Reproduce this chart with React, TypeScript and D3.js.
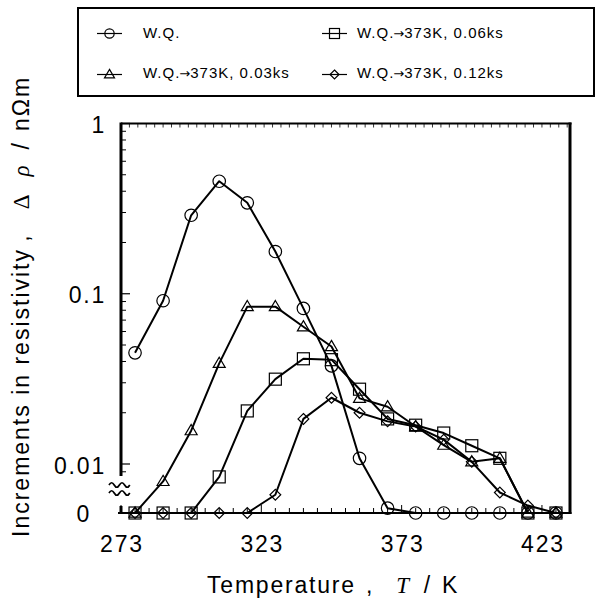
import React, { useRef, useEffect } from "react";
import * as d3 from "d3";

const WIDTH = 596;
const HEIGHT = 599;
const PLOT = { left: 121, right: 570, top: 123.5, bottom: 513 };
const SANS = "'Liberation Sans', Arial, Helvetica, sans-serif";
const SERIF = "'Liberation Serif', 'DejaVu Serif', serif";

// temperatures (K) of the isochronal steps
const temps = [278, 288, 298, 308, 318, 328, 338, 348, 358, 368, 378, 388, 398, 408, 418, 428];

// increments in resistivity (nΩm), 0 = below the break
const wq = [0.045, 0.091, 0.289, 0.458, 0.342, 0.177, 0.082, 0.0377, 0.0108, 0.0055, 0, 0, 0, 0, 0, 0];
const wq003 = [0, 0.0079, 0.0157, 0.039, 0.084, 0.084, 0.064, 0.049, 0.0243, 0.0217, 0.0166, 0.0129, 0.0103, 0.0108, 0, 0];
const wq006 = [0, 0, 0, 0.0084, 0.0205, 0.0315, 0.0415, 0.041, 0.0275, 0.0184, 0.0169, 0.0152, 0.0128, 0.0108, 0, 0];
const wq012 = [0, 0, 0, 0, 0, 0.0066, 0.0184, 0.0245, 0.02, 0.0178, 0.0166, 0.0139, 0.0103, 0.0068, 0.0057, 0];

const xTicks = [273, 323, 373, 423];
const yTicks = [1, 0.1, 0.01];
const yTickLabels = ["1", "0.1", "0.01"];

// legend label parts: prefix, arrow, suffix
const series = [
  { label: ["W.Q.", "", ""], values: wq, symbol: "circle" },
  { label: ["W.Q.", "\u2192", "373K, 0.06ks"], values: wq006, symbol: "square" },
  { label: ["W.Q.", "\u2192", "373K, 0.03ks"], values: wq003, symbol: "triangle" },
  { label: ["W.Q.", "\u2192", "373K, 0.12ks"], values: wq012, symbol: "diamond" },
];

type Sel = d3.Selection<SVGGElement, unknown, null, undefined>;

function drawMarker(g: Sel, symbol: string, cx: number, cy: number, s: number) {
  const common = (el: any) =>
    el.attr("fill", "none").attr("stroke", "#000").attr("stroke-width", 1.2);
  if (symbol === "circle") {
    common(g.append("circle").attr("cx", cx).attr("cy", cy).attr("r", s * 0.52));
  } else if (symbol === "square") {
    common(
      g.append("rect")
        .attr("x", cx - s / 2)
        .attr("y", cy - s / 2)
        .attr("width", s)
        .attr("height", s),
    );
  } else if (symbol === "triangle") {
    const h = s * 0.85;
    common(
      g.append("path").attr(
        "d",
        `M${cx},${cy - h * 0.6}L${cx + s / 2},${cy + h * 0.4}L${cx - s / 2},${cy + h * 0.4}Z`,
      ),
    );
  } else {
    const r = s * 0.45;
    common(
      g.append("path").attr(
        "d",
        `M${cx},${cy - r}L${cx + r},${cy}L${cx},${cy + r}L${cx - r},${cy}Z`,
      ),
    );
  }
}

export default function App() {
  const svgRef = useRef<SVGSVGElement>(null);

  useEffect(() => {
    const svg = d3.select(svgRef.current);
    svg.selectAll("*").remove();
    svg.append("rect").attr("width", WIDTH).attr("height", HEIGHT).attr("fill", "#fff");

    const x = d3.scaleLinear().domain([273, 433]).range([PLOT.left, PLOT.right]);
    const yLog = d3.scaleLog().domain([0.01, 1]).range([464, PLOT.top]);
    const y = (v: number) => (v <= 0 ? PLOT.bottom : yLog(v));

    const g = svg.append("g") as unknown as Sel;

    // data lines + markers
    const line = d3
      .line<number>()
      .x((_, i) => x(temps[i]))
      .y((v) => y(v));
    series.forEach((s) => {
      g.append("path")
        .datum(s.values)
        .attr("fill", "none")
        .attr("stroke", "#000")
        .attr("stroke-width", 2)
        .attr("stroke-linejoin", "round")
        .attr("d", line);
      s.values.forEach((v, i) => drawMarker(g, s.symbol, x(temps[i]), y(v), 12));
    });

    // frame
    const frame = g.append("g").attr("stroke", "#000").attr("fill", "none");
    frame.append("line").attr("x1", PLOT.left).attr("x2", PLOT.right + 1.5)
      .attr("y1", PLOT.top).attr("y2", PLOT.top).attr("stroke-width", 2);
    frame.append("line").attr("x1", PLOT.left - 3).attr("x2", PLOT.right + 1.5)
      .attr("y1", PLOT.bottom).attr("y2", PLOT.bottom).attr("stroke-width", 2);
    frame.append("line").attr("x1", PLOT.right).attr("x2", PLOT.right)
      .attr("y1", PLOT.top - 1).attr("y2", PLOT.bottom + 1).attr("stroke-width", 3);
    frame.append("line").attr("x1", PLOT.left).attr("x2", PLOT.left)
      .attr("y1", PLOT.top - 1).attr("y2", 476).attr("stroke-width", 3);
    frame.append("line").attr("x1", PLOT.left).attr("x2", PLOT.left)
      .attr("y1", 506).attr("y2", PLOT.bottom + 1).attr("stroke-width", 3);

    // axis break mark
    ["M109,485 q2.6,-4.5 5.2,0 t5.2,0 t5.2,0 t5.2,0", "M109,493 q2.6,-4.5 5.2,0 t5.2,0 t5.2,0 t5.2,0"].forEach((d) =>
      g.append("path").attr("d", d).attr("fill", "none").attr("stroke", "#000").attr("stroke-width", 1.7),
    );

    // bottom ticks (inward)
    d3.range(273, 434, 5).forEach((t) => {
      const len = (t - 273) % 50 === 0 ? 8 : 5;
      g.append("line").attr("x1", x(t)).attr("x2", x(t))
        .attr("y1", PLOT.bottom).attr("y2", PLOT.bottom - len)
        .attr("stroke", "#000").attr("stroke-width", 1);
    });
    // top ticks
    d3.range(276, 433, 3).forEach((t) => {
      g.append("line").attr("x1", x(t)).attr("x2", x(t))
        .attr("y1", PLOT.top).attr("y2", PLOT.top + 4)
        .attr("stroke", "#000").attr("stroke-width", 0.8);
    });
    // left ticks
    const minor = [0.01, 0.1].flatMap((d) => d3.range(2, 10).map((k) => k * d)).concat([0.009]);
    minor.forEach((v) => {
      g.append("line").attr("x1", PLOT.left).attr("x2", PLOT.left + 5)
        .attr("y1", yLog(v)).attr("y2", yLog(v)).attr("stroke", "#000").attr("stroke-width", 1);
    });
    yTicks.forEach((v) => {
      g.append("line").attr("x1", PLOT.left).attr("x2", PLOT.left + 9)
        .attr("y1", yLog(v)).attr("y2", yLog(v)).attr("stroke", "#000").attr("stroke-width", 1.2);
    });

    // tick labels
    const labels = g.append("g").attr("font-family", SANS).attr("font-size", 23)
      .attr("letter-spacing", 1.8).attr("fill", "#000");
    xTicks.forEach((t) => {
      labels.append("text").attr("x", x(t) + 1).attr("y", 552)
        .attr("text-anchor", "middle").text(String(t));
    });
    yTicks.forEach((v, i) => {
      labels.append("text").attr("x", 106).attr("y", yLog(v) + 9.5)
        .attr("text-anchor", "end").text(yTickLabels[i]);
    });
    labels.append("text").attr("x", 91).attr("y", PLOT.bottom + 9)
      .attr("text-anchor", "end").text("0");

    // axis titles
    const xt = g.append("text").attr("x", 207).attr("y", 593)
      .attr("font-family", SANS).attr("font-size", 23).attr("letter-spacing", 1.8);
    xt.append("tspan").text("Temperature");
    xt.append("tspan").attr("dx", 10).text(",");
    xt.append("tspan").attr("dx", 22).attr("font-family", SERIF).attr("font-style", "italic").text("T");
    xt.append("tspan").attr("dx", 13).text("/");
    xt.append("tspan").attr("dx", 10).text("K");

    const yt = g.append("text").attr("transform", "translate(29,537) rotate(-90)")
      .attr("font-family", SANS).attr("font-size", 23).attr("letter-spacing", 2);
    yt.append("tspan").text("Increments in resistivity");
    yt.append("tspan").attr("dx", 8).text(",");
    yt.append("tspan").attr("dx", 24).attr("font-family", SERIF).text("\u0394");
    yt.append("tspan").attr("dx", 16).attr("font-family", SERIF).attr("font-style", "italic").text("\u03c1");
    yt.append("tspan").attr("dx", 14).text("/");
    yt.append("tspan").attr("dx", 10).text("n\u03a9m");

    // legend
    const lg = g.append("g");
    lg.append("rect").attr("x", 78).attr("y", 8).attr("width", 516).attr("height", 88)
      .attr("fill", "#fff").attr("stroke", "#000").attr("stroke-width", 2);
    const slots = [
      { lx: 97, tx: 143, ty: 38, ly: 33.5 },
      { lx: 322, tx: 357, ty: 38, ly: 33.5 },
      { lx: 97, tx: 143, ty: 78, ly: 74.5 },
      { lx: 322, tx: 357, ty: 78, ly: 74.5 },
    ];
    series.forEach((s, i) => {
      const p = slots[i];
      lg.append("line").attr("x1", p.lx).attr("x2", p.lx + 25)
        .attr("y1", p.ly).attr("y2", p.ly).attr("stroke", "#000").attr("stroke-width", 1.2);
      drawMarker(lg as unknown as Sel, s.symbol, p.lx + 12.5, p.ly, s.symbol === "circle" ? 9 : 10);
      const t = lg.append("text").attr("x", p.tx).attr("y", p.ty)
        .attr("font-family", SANS).attr("font-size", 15).attr("letter-spacing", 1.0);
      t.append("tspan").text(s.label[0]);
      if (s.label[1]) {
        t.append("tspan").attr("font-family", "'DejaVu Sans', sans-serif")
          .attr("font-size", 13).attr("letter-spacing", 0).attr("dx", -1).text(s.label[1]);
        t.append("tspan").text(s.label[2]);
      }
    });
  }, []);

  return (
    <svg
      ref={svgRef}
      width={WIDTH}
      height={HEIGHT}
      style={{ position: "absolute", left: 0, top: 0, display: "block" }}
    />
  );
}
